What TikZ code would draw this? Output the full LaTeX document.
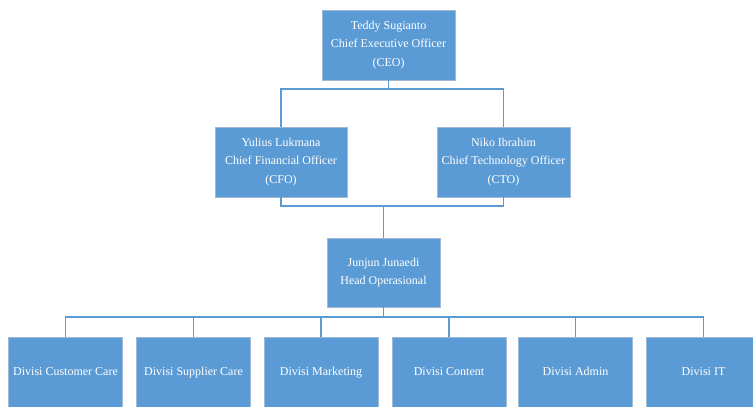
\documentclass[tikz,border=0pt]{standalone}
\usepackage{fontspec}
\setmainfont{Liberation Serif}
\usepackage{tikz}
\usetikzlibrary{positioning}
\definecolor{orgblue}{RGB}{91,155,213}
\definecolor{orgedge}{RGB}{160,185,212}

\begin{document}
\begin{tikzpicture}[x=1pt, y=-1pt,
  every node/.style={font=\fontsize{12}{18.5}\selectfont},
  box/.style={draw=orgedge, line width=0.9pt, fill=orgblue, text=white, align=center,
    minimum height=70pt, inner sep=0pt},
  conn/.style={draw=orgblue, line width=1.2pt}]
  \useasboundingbox (0,0) rectangle (753,407);

  % Direksi
  \node[box, minimum width=133pt] (ceo) at (388.5,45) {Teddy Sugianto\\Chief Executive Officer\\(CEO)};
  \node[box, minimum width=132pt] (cfo) at (281,162) {Yulius Lukmana\\Chief Financial Officer\\(CFO)};
  \node[box, minimum width=133pt] (cto) at (503.5,162) {Niko Ibrahim\\Chief Technology Officer\\(CTO)};
  \node[box, minimum width=113pt, minimum height=69pt] (head) at (383.5,272.5) {Junjun Junaedi\\Head Operasional};

  % Divisi
  \foreach \name/\cx/\label in {d1/65.5/Divisi Customer Care, d2/193.5/Divisi Supplier Care,
      d3/321/Divisi Marketing, d4/449/Divisi Content, d5/575.5/Divisi Admin, d6/703.5/Divisi IT}
    \node[box, minimum width=114pt, text height=8.5pt, text depth=2.5pt] (\name) at (\cx,372) {\label};

  % Garis penghubung
  \coordinate (j1) at (388.5,89);
  \coordinate (j2) at (383.5,206);
  \coordinate (j3) at (383.5,317);
  \draw[conn] (ceo.south) -- (j1);
  \draw[conn] (cfo.north) |- (j1) -| (cto.north);
  \draw[conn] (cfo.south) |- (j2) -| (cto.south);
  \draw[conn] (j2) -- (head.north);
  \draw[conn] (head.south) -- (j3);
  \draw[conn] (d1.north) |- (j3) -| (d6.north);
  \foreach \name in {d2,d3,d4,d5}
    \draw[conn] (\name.north) -- (\name.north |- j3);
\end{tikzpicture}
\end{document}
